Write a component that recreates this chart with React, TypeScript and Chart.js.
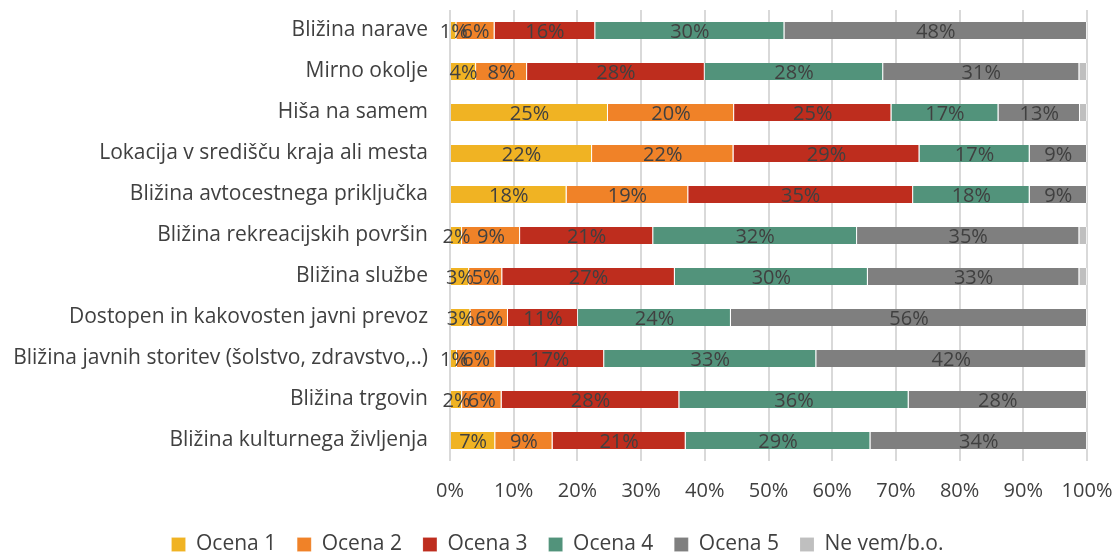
import React, { useEffect, useRef } from "react";
import { Chart, registerables } from "chart.js";

Chart.register(...registerables);

const categories = [
  "Bližina narave",
  "Mirno okolje",
  "Hiša na samem",
  "Lokacija v središču kraja ali mesta",
  "Bližina avtocestnega priključka",
  "Bližina rekreacijskih površin",
  "Bližina službe",
  "Dostopen in kakovosten javni prevoz",
  "Bližina javnih storitev (šolstvo, zdravstvo,..)",
  "Bližina trgovin",
  "Bližina kulturnega življenja",
];

const seriesNames = ["Ocena 1", "Ocena 2", "Ocena 3", "Ocena 4", "Ocena 5", "Ne vem/b.o."];

const ocena1 = [1.0, 4.1, 24.8, 22.3, 18.3, 1.9, 3.0, 3.2, 1.1, 1.9, 7.1];
const ocena2 = [6.0, 8.0, 19.8, 22.2, 19.1, 9.1, 5.2, 5.9, 6.0, 6.2, 9.0];
const ocena3 = [15.8, 27.9, 24.7, 29.2, 35.3, 20.9, 27.1, 11.0, 17.1, 27.9, 20.9];
const ocena4 = [29.7, 28.0, 16.8, 17.3, 18.3, 32.0, 30.3, 24.0, 33.3, 36.0, 29.0];
const ocena5 = [47.5, 30.8, 12.8, 9.0, 9.0, 34.9, 33.2, 55.9, 42.4, 28.0, 34.0];
const neVem = [0, 1.2, 1.1, 0, 0, 1.2, 1.2, 0, 0, 0, 0];

const xTicks = [0, 10, 20, 30, 40, 50, 60, 70, 80, 90, 100];

const colors = ["#F0B323", "#F08228", "#BE2D1E", "#52937B", "#7F7F7F", "#BFBFBF"];

const FONT = "'Open Sans', 'Noto Sans', sans-serif";

const labelPlugin = {
  id: "segLabels",
  beforeUpdate(chart: any) {
    const lg = chart.legend;
    if (lg && !lg.__patched) {
      const orig = lg.fit.bind(lg);
      lg.fit = function () {
        orig();
        this.height = 44;
      };
      lg.__patched = true;
    }
  },
  afterDatasetsDraw(chart: any) {
    const ctx = chart.ctx;
    ctx.save();
    ctx.font = `20px ${FONT}`;
    ctx.fillStyle = "#404040";
    ctx.textAlign = "center";
    ctx.textBaseline = "middle";
    chart.data.datasets.forEach((ds: any, di: number) => {
      if (di === 5) return;
      const meta = chart.getDatasetMeta(di);
      meta.data.forEach((bar: any, i: number) => {
        const v = ds.data[i];
        if (!v) return;
        const x = (bar.x + bar.base) / 2;
        ctx.fillText(Math.round(v) + "%", x, bar.y + 2);
      });
    });
    ctx.restore();
  },
};

export default function App() {
  const ref = useRef<HTMLCanvasElement>(null);
  useEffect(() => {
    document.body.style.margin = "0";
    const all = [ocena1, ocena2, ocena3, ocena4, ocena5, neVem];
    const chart = new Chart(ref.current!, {
      type: "bar",
      data: {
        labels: categories,
        datasets: all.map((d, i) => ({
          label: seriesNames[i],
          data: d,
          backgroundColor: colors[i],
          borderColor: "rgba(255,255,255,0.6)",
          borderWidth: { left: 0, right: 1, top: 0, bottom: 0 },
          borderSkipped: false,
          categoryPercentage: 1,
          barPercentage: 0.42,
        })),
      },
      options: {
        indexAxis: "y",
        animation: false,
        responsive: false,
        maintainAspectRatio: false,
        layout: { padding: { top: 10, right: 0, left: 0, bottom: 0 } },
        scales: {
          x: {
            stacked: true,
            min: 0,
            max: 100,
            afterBuildTicks: (s: any) => {
              s.ticks = xTicks.map((v) => ({ value: v }));
            },
            afterFit: (s: any) => {
              s.height = 52;
              s.paddingRight = 28;
              s.paddingLeft = 0;
            },
            ticks: {
              callback: (v: any) => v + "%",
              font: { family: FONT, size: 20 },
              color: "#404040",
              padding: 18,
            },
            grid: { color: "#D9D9D9", lineWidth: 2, drawTicks: false },
            border: { display: false },
          },
          y: {
            stacked: true,
            afterFit: (s: any) => {
              s.width = 450;
              s.paddingTop = 0;
              s.paddingBottom = 0;
            },
            ticks: {
              font: { family: FONT, size: 21 },
              color: "#404040",
              padding: 14,
            },
            grid: { display: false },
            border: { display: false },
          },
        },
        plugins: {
          legend: {
            position: "bottom",
            labels: {
              font: { family: FONT, size: 21 },
              color: "#404040",
              boxWidth: 14,
              boxHeight: 14,
              padding: 21,
            },
          },
          tooltip: { enabled: false },
        },
      },
      plugins: [labelPlugin],
    } as any);
    return () => chart.destroy();
  }, []);
  return (
    <div style={{ width: 1115, height: 557 }}>
      <canvas ref={ref} width={1115} height={557} />
    </div>
  );
}
